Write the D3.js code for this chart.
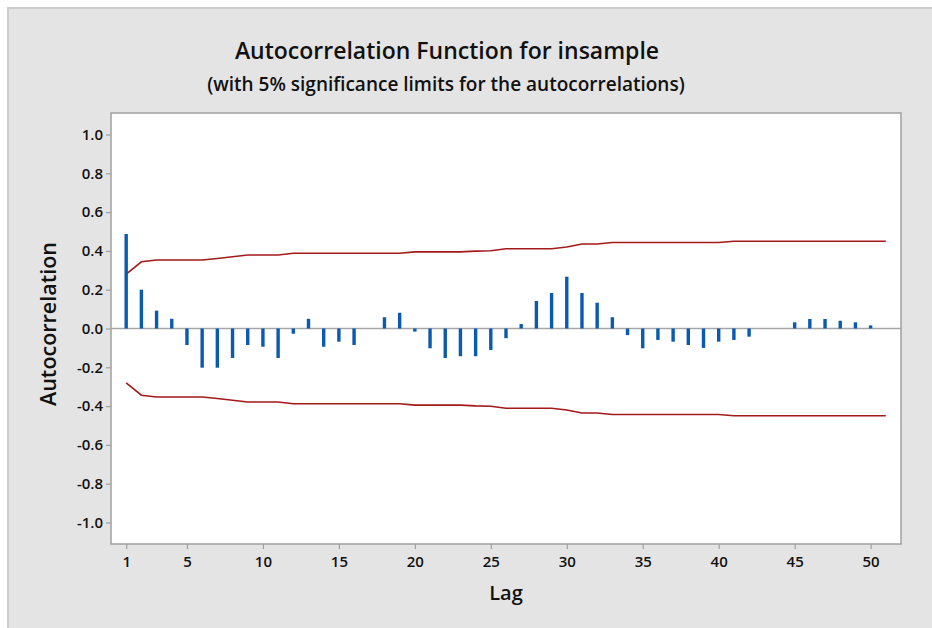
<!DOCTYPE html>
<html>
<head>
<meta charset="utf-8">
<script src="https://cdn.jsdelivr.net/npm/d3@7"></script>
<style>
  html, body { margin: 0; padding: 0; background: #ffffff; }
  svg { display: block; }
  text { font-family: "Open Sans", "Noto Sans", "DejaVu Sans", sans-serif; fill: #111; }
</style>
</head>
<body>
<svg id="chart" width="932" height="628"></svg>
<script>
// ---- Data ----
const lags = d3.range(1, 52); // 1..51
const acf = [
  0.487, 0.200, 0.092, 0.050, -0.085, -0.202, -0.202, -0.152, -0.085, -0.094,
  -0.152, -0.027, 0.050, -0.094, -0.068, -0.085, 0.000, 0.058, 0.081, -0.016,
  -0.102, -0.152, -0.143, -0.143, -0.111, -0.050, 0.023, 0.142, 0.183, 0.267,
  0.183, 0.133, 0.058, -0.034, -0.102, -0.059, -0.068, -0.085, -0.100, -0.068,
  -0.059, -0.042, 0.000, 0.000, 0.032, 0.049, 0.049, 0.040, 0.032, 0.016,
  0.000
];
const upperLimit = [
  0.280, 0.344, 0.353, 0.353, 0.353, 0.353, 0.361, 0.370, 0.379, 0.379,
  0.379, 0.388, 0.388, 0.388, 0.388, 0.388, 0.388, 0.388, 0.388, 0.395,
  0.395, 0.395, 0.395, 0.399, 0.401, 0.411, 0.411, 0.411, 0.411, 0.420,
  0.436, 0.436, 0.443, 0.443, 0.443, 0.443, 0.443, 0.443, 0.443, 0.443,
  0.450, 0.450, 0.450, 0.450, 0.450, 0.450, 0.450, 0.450, 0.450, 0.450,
  0.450
];
const xTicks = [1, 5, 10, 15, 20, 25, 30, 35, 40, 45, 50];
const yTicks = [-1.0, -0.8, -0.6, -0.4, -0.2, 0.0, 0.2, 0.4, 0.6, 0.8, 1.0];
const title = "Autocorrelation Function for insample";
const subtitle = "(with 5% significance limits for the autocorrelations)";
const xLabel = "Lag";
const yLabel = "Autocorrelation";

// ---- Layout ----
const W = 932, H = 628;
const plot = { left: 111, top: 113, right: 901, bottom: 544 };
const svg = d3.select("#chart");

// outer background
svg.append("rect").attr("x", 0).attr("y", 0).attr("width", W).attr("height", H).attr("fill", "#ffffff");
svg.append("rect").attr("x", 8).attr("y", 8).attr("width", W).attr("height", H)
  .attr("fill", "#e4e4e4").attr("stroke", "#cccccc").attr("stroke-width", 2);

// plot area
svg.append("rect")
  .attr("x", plot.left).attr("y", plot.top)
  .attr("width", plot.right - plot.left).attr("height", plot.bottom - plot.top)
  .attr("fill", "#ffffff").attr("stroke", "#a0a0a0").attr("stroke-width", 1.5);

const x = d3.scaleLinear().domain([0, 52]).range([plot.left, plot.right]);
const y = d3.scaleLinear().domain([-1.111, 1.111]).range([plot.bottom, plot.top]);

// axes
const yAxis = d3.axisLeft(y).tickValues(yTicks).tickFormat(d3.format(".1f")).tickSize(5).tickPadding(3);
const gy = svg.append("g").attr("transform", `translate(${plot.left},0)`).call(yAxis);
gy.select(".domain").remove();
gy.selectAll(".tick line").attr("stroke", "#a0a0a0").attr("stroke-width", 1.2);
gy.selectAll(".tick text").attr("font-size", 15).attr("font-weight", 600)
  .attr("font-family", "'Open Sans', sans-serif").attr("fill", "#111")
  .text(d => d3.format(".1f")(d).replace("−", "-"));

const xAxis = d3.axisBottom(x).tickValues(xTicks).tickFormat(d3.format("d")).tickSize(5).tickPadding(7);
const gx = svg.append("g").attr("transform", `translate(0,${plot.bottom})`).call(xAxis);
gx.select(".domain").remove();
gx.selectAll(".tick line").attr("stroke", "#a0a0a0").attr("stroke-width", 1.2);
gx.selectAll(".tick text").attr("font-size", 15).attr("font-weight", 600)
  .attr("font-family", "'Open Sans', sans-serif").attr("fill", "#111");

// zero reference line
svg.append("line")
  .attr("x1", plot.left).attr("x2", plot.right)
  .attr("y1", y(0)).attr("y2", y(0))
  .attr("stroke", "#a6a6a6").attr("stroke-width", 1.5);

// significance limits
const limData = lags.map((l, i) => ({ lag: l, u: upperLimit[i] }));
const upLine = d3.line().x(d => x(d.lag)).y(d => y(d.u));
const loLine = d3.line().x(d => x(d.lag)).y(d => y(-d.u));
svg.append("path").datum(limData).attr("d", upLine)
  .attr("fill", "none").attr("stroke", "#a3191c").attr("stroke-width", 1.6);
svg.append("path").datum(limData).attr("d", loLine)
  .attr("fill", "none").attr("stroke", "#a3191c").attr("stroke-width", 1.6);

// bars
const bw = 3.4;
svg.append("g").selectAll("rect")
  .data(lags.map((l, i) => ({ lag: l, v: acf[i] })).filter(d => d.v !== 0))
  .join("rect")
  .attr("x", d => x(d.lag) - bw / 2)
  .attr("width", bw)
  .attr("y", d => Math.min(y(d.v), y(0)))
  .attr("height", d => Math.abs(y(d.v) - y(0)))
  .attr("fill", "#0a5bb0");

// titles
svg.append("text").attr("x", 447).attr("y", 59).attr("text-anchor", "middle")
  .attr("font-size", 23).attr("font-weight", 600).text(title);
svg.append("text").attr("x", 446).attr("y", 91).attr("text-anchor", "middle")
  .attr("font-size", 19).attr("font-weight", 600).text(subtitle);

svg.append("text").attr("x", 506).attr("y", 600).attr("text-anchor", "middle")
  .attr("font-size", 20).attr("font-weight", 600).text(xLabel);
svg.append("text").attr("transform", "translate(56,324) rotate(-90)").attr("text-anchor", "middle")
  .attr("font-size", 21.5).attr("font-weight", 600).text(yLabel);
</script>
</body>
</html>
